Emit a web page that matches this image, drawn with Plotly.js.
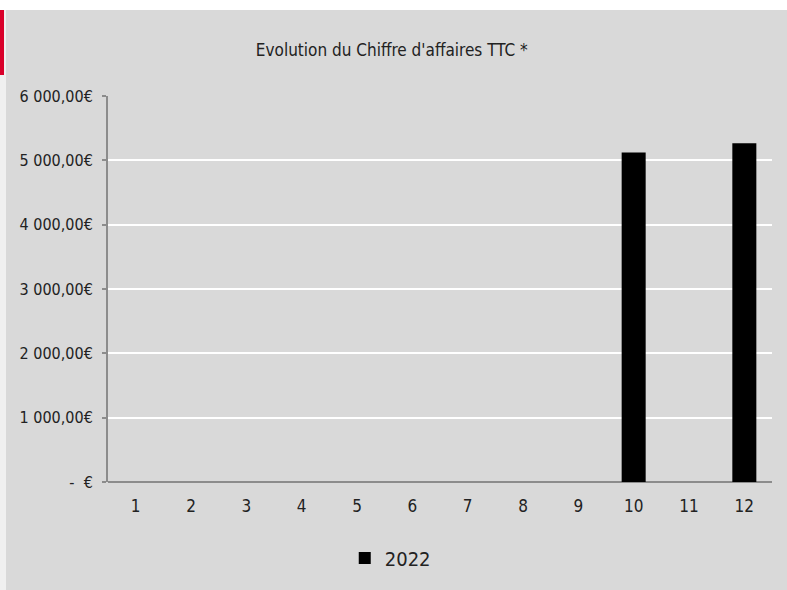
<!DOCTYPE html>
<html>
<head>
<meta charset="utf-8">
<script src="https://cdn.plot.ly/plotly-3.0.1.min.js"></script>
<style>
html,body{margin:0;padding:0;background:#ffffff;width:787px;height:590px;overflow:hidden;}
#strip{position:absolute;left:0;top:10px;width:6px;height:580px;background:#f0f0f0;}
#red{position:absolute;left:0;top:10px;width:4px;height:65px;background:#d9002a;}
#chart{position:absolute;left:6px;top:10px;width:781px;height:580px;}
</style>
</head>
<body>
<div id="strip"></div>
<div id="red"></div>
<div id="chart"></div>
<script>
const months = ['1','2','3','4','5','6','7','8','9','10','11','12'];
const revenue2022 = [null,null,null,null,null,null,null,null,null,5120,null,5265];
const yTickVals = [0,1000,2000,3000,4000,5000,6000];
const yTickText = ['-  €','1 000,00€','2 000,00€','3 000,00€','4 000,00€','5 000,00€','6 000,00€'];
const seriesName = '2022';
const chartTitle = "Evolution du Chiffre d'affaires TTC *";

const FONT = 'DejaVu Sans Condensed, Liberation Sans Narrow, sans-serif';

Plotly.newPlot('chart', [{
  type: 'bar',
  x: months,
  y: revenue2022,
  name: seriesName,
  marker: {color: '#000000'},
  showlegend: true,
  hoverinfo: 'x+y'
}], {
  width: 781,
  height: 580,
  paper_bgcolor: '#d9d9d9',
  plot_bgcolor: '#d9d9d9',
  margin: {l: 102, r: 15, t: 86, b: 108},
  font: {family: FONT, color: '#222222', size: 16},
  title: {
    text: chartTitle,
    font: {family: FONT, size: 17, color: '#222222'},
    xref: 'container', x: 0.494, xanchor: 'center',
    yref: 'container', y: 1 - 40/580, yanchor: 'middle'
  },
  bargap: 0.566,
  xaxis: {
    type: 'category',
    range: [-0.5, 11.5],
    showgrid: false,
    showline: false,
    zeroline: false,
    ticks: '',
    ticklabelstandoff: 12,
    tickfont: {family: FONT, size: 17, color: '#222222'}
  },
  yaxis: {
    range: [0, 6000],
    tickvals: yTickVals,
    ticktext: yTickText,
    showgrid: true,
    gridcolor: '#ffffff',
    gridwidth: 2,
    zeroline: true,
    zerolinecolor: '#8c8c8c',
    zerolinewidth: 2,
    showline: true,
    linecolor: '#8c8c8c',
    linewidth: 2,
    ticks: 'outside',
    ticklen: 4,
    tickcolor: '#8c8c8c',
    tickwidth: 2,
    ticklabelstandoff: 6,
    tickfont: {family: FONT, size: 16, color: '#222222'}
  },
  showlegend: true,
  legend: {
    orientation: 'h',
    xref: 'container', x: 0.492, xanchor: 'center',
    yref: 'container', y: 1 - 548/580, yanchor: 'middle',
    bgcolor: 'rgba(0,0,0,0)',
    itemwidth: 30,
    font: {family: FONT, size: 20, color: '#222222'}
  }
}, {displayModeBar: false, staticPlot: true});
</script>
</body>
</html>
